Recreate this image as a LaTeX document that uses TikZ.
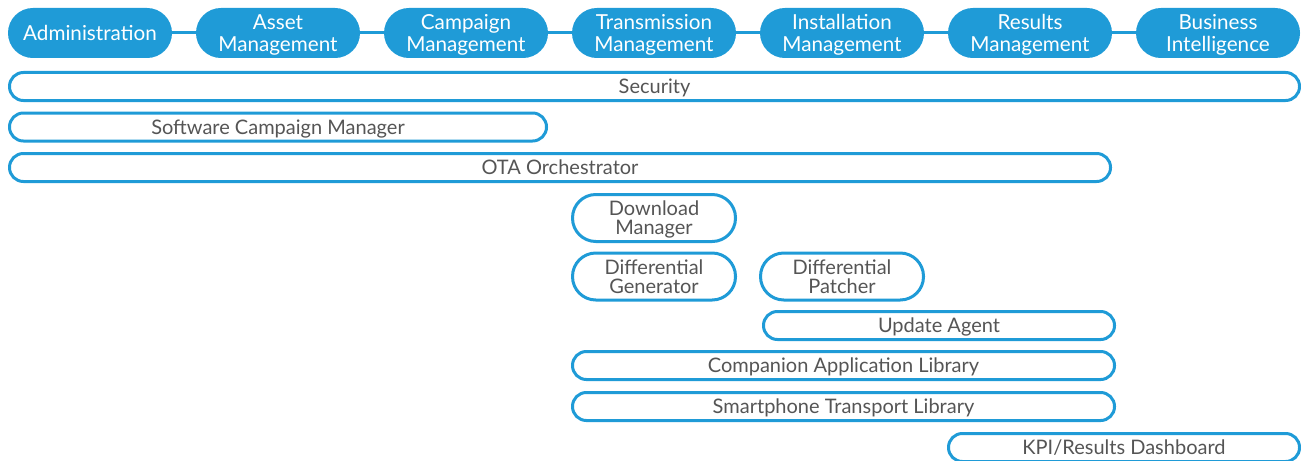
\documentclass[tikz,border=0pt]{standalone}
\usepackage{fontspec}
\setmainfont{Lato}
\usepackage{tikz}
\definecolor{otablue}{HTML}{1F9BD7}
\definecolor{otagray}{HTML}{555555}
\tikzset{
  pill/.style={fill=otablue, text=white, align=center, inner sep=0pt, text depth=0pt,
    minimum width=123pt, minimum height=37.5pt, rounded corners=18.7pt,
    font=\fontsize{15.5}{16.5}\selectfont},
  bar/.style={draw=otablue, line width=2.25pt, fill=white, text=otagray, inner sep=0pt,
    text depth=0pt, minimum height=21pt, rounded corners=10.4pt,
    font=\fontsize{15}{14.25}\selectfont},
  blob/.style={bar, align=center, minimum width=122.25pt, minimum height=35.25pt,
    rounded corners=17.5pt},
}

\begin{document}
\begin{tikzpicture}[x=0.75pt,y=-0.75pt]
\useasboundingbox (0,0) rectangle (1301,460);
% top row
\node[pill] (adm) at (90,33) {Administration};
\node[pill] (asset) at (278,33) {Asset\\Management};
\node[pill] (camp) at (466,33) {Campaign\\Management};
\node[pill] (trans) at (654,33) {Transmission\\Management};
\node[pill] (inst) at (842,33) {Installation\\Management};
\node[pill] (res) at (1030,33) {Results\\Management};
\node[pill] (bi) at (1218,33) {Business\\Intelligence};
\draw[otablue, line width=2.25pt] (adm.east) -- (asset.west);
\draw[otablue, line width=2.25pt] (asset.east) -- (camp.west);
\draw[otablue, line width=2.25pt] (camp.east) -- (trans.west);
\draw[otablue, line width=2.25pt] (trans.east) -- (inst.west);
\draw[otablue, line width=2.25pt] (inst.east) -- (res.west);
\draw[otablue, line width=2.25pt] (res.east) -- (bi.west);
% bars
\node[bar, minimum width=967.5pt] (sec) at (654.5,86.5) {Security};
\node[bar, minimum width=402.75pt] (scm) at (278,127) {Software Campaign Manager};
\node[bar, minimum width=825.75pt] (ota) at (560,167.5) {OTA Orchestrator};
\node[blob] (dlm) at (654,218) {Download\\Manager};
\node[blob] (dgen) at (654,276.5) {Differential\\Generator};
\node[blob] (dpat) at (842,276.5) {Differential\\Patcher};
\node[bar, minimum width=263.25pt] (agent) at (939,325.5) {Update Agent};
\node[bar, minimum width=406.5pt] (cal) at (843.5,365.5) {Companion Application Library};
\node[bar, minimum width=406.5pt] (stl) at (843.5,406.5) {Smartphone Transport Library};
\node[bar, minimum width=263.25pt] (kpi) at (1124,447.5) {KPI/Results Dashboard};
\end{tikzpicture}
\end{document}
